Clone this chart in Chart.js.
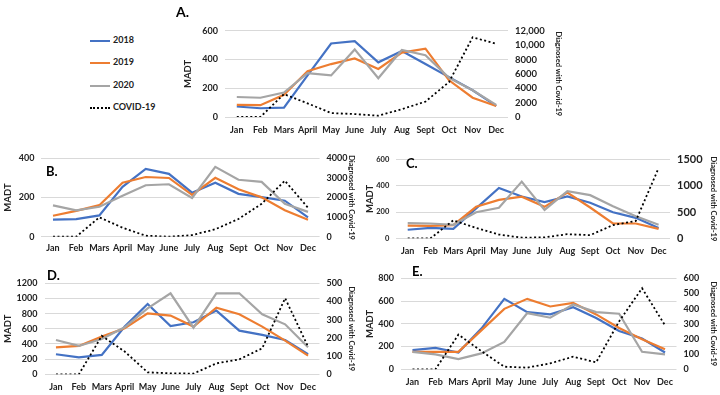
<!DOCTYPE html>
<html><head><meta charset="utf-8">
<script src="https://cdn.jsdelivr.net/npm/chart.js@4.4.0/dist/chart.umd.min.js"></script>
<style>
html,body{margin:0;padding:0;background:#fff;width:720px;height:395px;overflow:hidden;font-family:Lato,"Liberation Sans",sans-serif;}
canvas{position:absolute;}
.lbl{position:absolute;font-weight:bold;color:#000;z-index:5;}
.leg{position:absolute;font-size:9px;font-weight:bold;color:#222;}
.leg span.ln{display:inline-block;width:20px;vertical-align:middle;margin-right:3px;}
</style></head><body>
<div class="lbl" style="left:176px;top:3px;font-size:14px;">A.</div>
<div class="lbl" style="left:46px;top:163px;font-size:13px;">B.</div>
<div class="lbl" style="left:406px;top:155px;font-size:13px;">C.</div>
<div class="lbl" style="left:47px;top:267px;font-size:13px;">D.</div>
<div class="lbl" style="left:412px;top:263px;font-size:13px;">E.</div>
<div class="leg" style="left:90px;top:34px;"><span class="ln" style="border-top:2px solid #4472C4"></span>2018</div>
<div class="leg" style="left:90px;top:56px;"><span class="ln" style="border-top:2px solid #ED7D31"></span>2019</div>
<div class="leg" style="left:90px;top:79px;"><span class="ln" style="border-top:2px solid #A5A5A5"></span>2020</div>
<div class="leg" style="left:90px;top:101px;"><span class="ln" style="border-top:2px dotted #000"></span>COVID-19</div>
<canvas id="cA"></canvas><canvas id="cB"></canvas><canvas id="cC"></canvas><canvas id="cD"></canvas><canvas id="cE"></canvas>
<script>
const months = ['Jan','Feb','Mars','April','May','June','July','Aug','Sept','Oct','Nov','Dec'];

// Panel A
const a2018 = [73,61,65,289,511,527,380,459,368,277,186,77];
const a2019 = [84,82,155,318,368,407,334,448,475,255,134,77];
const a2020 = [139,134,170,305,289,470,270,466,430,273,186,84];
const aCovid = [0,0,3180,1900,545,410,180,1090,2140,4860,11090,10180];
// Panel B
const b2018 = [87,90,109,255,346,321,225,276,219,202,184,99];
const b2019 = [107,132,161,276,305,300,214,301,242,201,135,87];
const b2020 = [160,135,153,209,263,268,198,357,291,280,168,127];
const bCovid = [0,0,990,460,50,0,80,380,905,1680,2860,1480];
// Panel C
const c2018 = [65,79,72,228,384,319,276,319,271,199,156,79];
const c2019 = [96,94,101,240,293,317,240,348,235,113,113,72];
const c2020 = [115,113,103,199,233,432,216,360,329,245,168,103];
const cCovid = [0,0,342,198,72,12,18,78,60,252,330,1338];
// Panel D
const d2018 = [264,224,255,629,927,637,686,840,576,519,453,264];
const d2019 = [356,374,497,607,804,774,629,879,791,629,444,246];
const d2020 = [453,374,466,620,870,1068,615,1068,1068,791,659,356];
const dCovid = [0,0,211,125,11,5,4,60,82,143,418,152];
// Panel E
const e2018 = [169,189,148,358,620,503,483,547,451,337,271,148];
const e2019 = [154,154,154,343,532,620,553,585,483,364,265,177];
const e2020 = [154,131,90,140,241,495,454,570,503,489,154,131];
const eCovid = [0,0,229,120,17,11,39,83,46,316,535,290];

const FONT = 'Lato, "Liberation Sans", sans-serif';
const C18 = '#4472C4', C19 = '#ED7D31', C20 = '#A5A5A5';

function makePanel(id, box, plot, s18, s19, s20, cov, left, right, opts) {
  const cv = document.getElementById(id);
  cv.width = box.w; cv.height = box.h;
  cv.style.left = box.l + 'px'; cv.style.top = box.t + 'px';
  const lw = plot.l - box.l, rw = (box.l + box.w) - plot.r, xh = (box.t + box.h) - plot.b;
  const line = (label, data, color) => ({label, data, borderColor: color, backgroundColor: color, borderWidth: 2.2, pointRadius: 0, tension: 0, fill: false, yAxisID: 'y'});
  new Chart(cv, {
    type: 'line',
    data: {
      labels: months,
      datasets: [
        {label:'COVID-19', data: cov, borderColor:'#000', borderWidth:1.8, borderDash:[2,2.5], pointRadius:0, tension:0, fill:false, yAxisID:'y1'},
        line('2020', s20, C20), line('2019', s19, C19), line('2018', s18, C18)
      ]
    },
    options: {
      responsive: false, animation: false, devicePixelRatio: 1,
      layout: {padding: {top: plot.t - box.t, left: 0, right: 0, bottom: 0}},
      plugins: {legend: {display: false}, tooltip: {enabled: false}},
      scales: {
        x: {
          type: 'category', offset: true,
          grid: {display: false, drawTicks: false}, border: {display: false},
          ticks: {font: {family: FONT, size: opts.xf || 9, weight: 'bold'}, color: '#222', padding: opts.xp || 7, maxRotation: 0, autoSkip: false},
          afterFit: s => { s.height = xh; }
        },
        y: {
          position: 'left', min: 0, max: left.max,
          grid: {color: '#D9D9D9', lineWidth: 1, drawTicks: false}, border: {display: false},
          ticks: {stepSize: left.step, autoSkip: false, font: {family: FONT, size: left.fs || 9, weight: 'bold'}, color: '#222', padding: left.pad || 7,
            callback: v => String(v)},
          title: {display: true, text: 'MADT', font: {family: FONT, size: 9.5, weight: 'bold'}, color: '#222', padding: {top: 2, bottom: 2}},
          afterFit: s => { s.width = lw; }
        },
        y1: {
          position: 'right', min: 0, max: right.max,
          grid: {display: false, drawTicks: false}, border: {display: false},
          ticks: {stepSize: right.step, autoSkip: false, font: {family: FONT, size: right.fs || 9, weight: 'bold'}, color: '#222', padding: right.pad || 7,
            callback: v => v >= 10000 ? v.toLocaleString('en-US') : String(v)},
          title: {display: true, text: 'Diagnosed with Covid-19', font: {family: FONT, size: right.tfs || 7.5, weight: 'bold'}, color: '#222', padding: {top: 2, bottom: 2}},
          afterFit: s => { s.width = rw; }
        }
      }
    }
  });
}

makePanel('cA', {l:180,t:18,w:385,h:124}, {l:225,r:508,t:29,b:117}, a2018,a2019,a2020,aCovid, {max:600,step:200}, {max:12000,step:2000,fs:9.5}, {xp:8});
makePanel('cB', {l:0,t:146,w:358,h:114}, {l:41.4,r:319.6,t:155.7,b:236.7}, b2018,b2019,b2020,bCovid, {max:400,step:200}, {max:4000,step:1000}, {xp:6});
makePanel('cC', {l:362,t:146,w:358,h:114}, {l:396.3,r:670,t:155,b:238.3}, c2018,c2019,c2020,cCovid, {max:600,step:200,fs:7.5}, {max:1500,step:500,fs:11}, {xp:7});
makePanel('cD', {l:0,t:266,w:358,h:129}, {l:44.5,r:319.5,t:283.3,b:374.3}, d2018,d2019,d2020,dCovid, {max:1200,step:200}, {max:500,step:100}, {xp:7});
makePanel('cE', {l:362,t:266,w:358,h:129}, {l:401,r:676.5,t:277.7,b:369.3}, e2018,e2019,e2020,eCovid, {max:800,step:200}, {max:600,step:100}, {xp:7});
</script>
</body></html>
